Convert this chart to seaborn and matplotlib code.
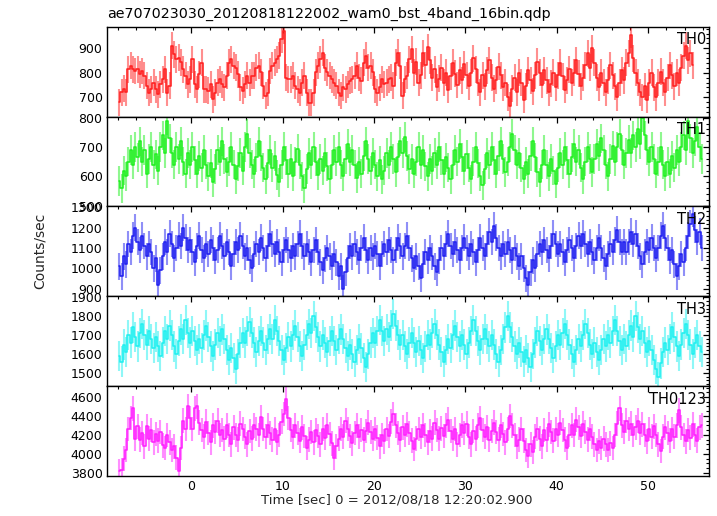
import numpy as np
import matplotlib
matplotlib.use("Agg")
import matplotlib.pyplot as plt
from matplotlib.ticker import MultipleLocator
import seaborn as sns

sns.set_theme(style="white")
plt.rcParams["font.family"] = ["DejaVu Sans"]

title = "ae707023030_20120818122002_wam0_bst_4band_16bin.qdp"
x_label = "Time [sec] 0 = 2012/08/18 12:20:02.900"
y_label = "Counts/sec"
band_names = ["TH0", "TH1", "TH2", "TH3", "TH0123"]
band_colors = ["#ff2020", "#20f020", "#2020f0", "#20f0f0", "#ff20ff"]
t_start = -8.0
bin_width = 0.25
err_half = [55, 50, 66, 80, 130]

th0 = [680, 720, 735,
       720, 814, 828, 814, 807, 814, 794, 807, 787, 746, 719, 733,
       760, 733, 712, 753, 773, 814, 719, 746, 910, 876, 855, 862,
       842, 815, 787, 753, 773, 855, 753, 733, 794, 841, 733, 733,
       726, 753, 692, 719, 760, 773, 753, 740, 787, 841, 855, 828,
       821, 794, 740, 726, 753, 787, 760, 787, 787, 821, 828, 801,
       746, 706, 719, 807, 828, 841, 855, 869, 937, 971, 780, 773,
       773, 787, 746, 733, 719, 760, 787, 719, 678, 678, 719, 801,
       828, 855, 882, 821, 801, 787, 773, 760, 746, 719, 706, 740,
       733, 753, 767, 773, 787, 828, 780, 767, 841, 869, 821, 828,
       801, 733, 719, 740, 773, 753, 760, 773, 780, 746, 841, 882,
       828, 706, 773, 787, 855, 896,
       800, 845, 760, 790, 880, 830, 905, 850, 780, 815, 740, 775, 820, 760, 800, 730, 785, 840, 795, 750,
       810, 770, 835, 790, 745, 800, 860, 815, 760, 720, 790, 745, 810, 850, 780, 735, 770, 825, 790, 740,
       760, 700, 665, 735, 780, 720, 800, 760, 690, 745, 810, 770, 725, 790, 845, 800, 750, 810, 770, 720,
       755, 800, 740, 790, 840, 785, 730, 770, 815, 760, 800, 850, 795, 745, 780, 830, 880, 820, 900, 840,
       780, 740, 800, 760, 720, 770, 830, 790, 745, 700, 760, 810, 770, 840, 880, 955, 860, 800, 760, 720,
       700, 745, 690, 760, 800, 740, 700, 760, 805, 760, 720, 780, 830, 790, 745, 800, 760, 820, 870, 910, 850, 880, 830]

th1 = [585, 560, 620, 600, 650, 690, 640, 700, 665, 720, 650, 690, 610, 660, 700, 640,
       675, 620, 700, 740, 680, 790, 730, 680, 640, 700, 660, 720, 650, 610, 680, 640,
       700, 655, 610, 670, 630, 690, 640, 600, 645, 580, 625, 690, 650, 720, 660, 615,
       650, 700, 640, 590, 635, 680, 620, 700, 745, 680, 640, 610, 665, 720, 670, 630,
       590, 645, 690, 630, 670, 605, 580, 640, 700, 655, 610, 660, 600, 650, 695, 640,
       600, 560, 625, 680, 640, 700, 650, 605, 660, 620, 680, 635, 590, 640, 690, 650,
       700, 640, 600, 660, 710, 650, 690, 640, 595, 650, 610, 670, 720, 660, 620, 680,
       640, 600, 655, 590, 620, 680, 640, 700, 660, 615, 665, 720, 680, 735, 670, 625,
       660, 610, 650, 700, 640, 690, 635, 600, 660, 620, 680, 640, 700, 655, 610, 665,
       630, 590, 640, 690, 650, 710, 665, 620, 675, 630, 590, 650, 700, 645, 600, 570,
       625, 680, 640, 700, 655, 610, 670, 720, 660, 615, 650, 700, 745, 690, 640, 680,
       630, 590, 650, 610, 670, 720, 665, 615, 580, 640, 690, 640, 600, 660, 620, 575,
       630, 680, 640, 700, 655, 610, 665, 710, 650, 690, 630, 590, 650, 700, 660, 615,
       660, 710, 670, 730, 690, 640, 600, 660, 705, 650, 700, 745, 690, 640, 680, 725,
       680, 740, 700, 760, 710, 800, 740, 690, 650, 700, 660, 610, 650, 700, 640, 600,
       650, 610, 670, 630, 690, 650, 700, 740, 690, 790, 730, 680, 720, 770, 700, 660]

th2 = [1010, 960, 1060, 1020, 1120, 1080, 1160, 1200, 1130, 1090, 1160, 1110, 1060, 1120, 1080, 1000,
       1050, 920, 990, 1060, 1130, 1080, 1170, 1120, 1050, 1100, 1160, 1110, 1200, 1150, 1090, 1140,
       1080, 1030, 1110, 1160, 1090, 1050, 1120, 1070, 1140, 1100, 1040, 1090, 1160, 1110, 1060, 1130,
       1080, 1010, 1070, 1130, 1090, 1160, 1110, 1060, 1100, 1040, 1000, 1070, 1120, 1080, 1150, 1100,
       1050, 1110, 1170, 1120, 1070, 1130, 1080, 1030, 1090, 1140, 1090, 1050, 1110, 1060, 1120, 1170,
       1110, 1060, 1120, 1080, 1030, 1090, 1140, 1080, 1030, 990, 1050, 1100, 1060, 1010, 1070, 1030,
       960, 1010, 900, 980, 1050, 1110, 1060, 1120, 1080, 1040, 1100, 1150, 1090, 1040, 1100, 1060,
       1110, 1070, 1010, 1070, 1120, 1080, 1140, 1090, 1040, 1090, 1150, 1110, 1060, 1110, 1160, 1100,
       1050, 1000, 1060, 1010, 950, 1020, 1080, 1040, 1100, 1060, 1010, 980, 1040, 1100, 1060, 1120,
       1170, 1110, 1070, 1130, 1090, 1040, 1100, 1150, 1100, 1060, 1120, 1080, 1030, 1090, 1150, 1100,
       1060, 1120, 1180, 1130, 1210, 1150, 1100, 1060, 1120, 1070, 1130, 1090, 1040, 1100, 1060, 1010,
       1060, 1000, 950, 920, 980, 1040, 1000, 1070, 1120, 1080, 1140, 1090, 1050, 1110, 1170, 1120,
       1070, 1120, 1080, 1030, 1090, 1140, 1100, 1050, 1110, 1160, 1110, 1170, 1120, 1070, 1130, 1080,
       1040, 1100, 1150, 1100, 1050, 1010, 1070, 1120, 1080, 1140, 1190, 1130, 1080, 1130, 1080, 1130,
       1180, 1120, 1170, 1110, 1060, 1020, 1080, 1130, 1090, 1150, 1100, 1050, 1100, 1160, 1210, 1150,
       1100, 1040, 1090, 1020, 960, 1010, 1070, 1030, 1100, 1160, 1220, 1270, 1190, 1130, 1180, 1100]

th3 = [1590, 1560, 1650, 1610, 1700, 1660, 1740, 1690, 1640, 1710, 1760, 1700, 1650, 1720, 1680, 1630,
       1690, 1640, 1590, 1660, 1720, 1680, 1750, 1700, 1640, 1600, 1670, 1730, 1680, 1780, 1710, 1660,
       1720, 1670, 1620, 1680, 1630, 1700, 1750, 1690, 1640, 1590, 1650, 1710, 1670, 1730, 1680, 1620,
       1570, 1630, 1580, 1520, 1600, 1660, 1710, 1660, 1720, 1770, 1710, 1660, 1610, 1670, 1720, 1660,
       1620, 1680, 1730, 1680, 1780, 1720, 1670, 1620, 1570, 1630, 1690, 1640, 1700, 1750, 1690, 1640,
       1590, 1650, 1700, 1760, 1710, 1800, 1740, 1690, 1640, 1700, 1660, 1610, 1670, 1720, 1670, 1620,
       1680, 1730, 1680, 1630, 1590, 1650, 1600, 1560, 1620, 1680, 1630, 1580, 1530, 1600, 1660, 1710,
       1660, 1720, 1780, 1720, 1670, 1730, 1690, 1750, 1810, 1750, 1700, 1650, 1700, 1640, 1600, 1660,
       1710, 1660, 1610, 1670, 1620, 1580, 1640, 1700, 1650, 1710, 1760, 1700, 1650, 1610, 1560, 1620,
       1680, 1630, 1700, 1750, 1690, 1640, 1700, 1650, 1600, 1660, 1720, 1780, 1720, 1670, 1620, 1680,
       1730, 1680, 1640, 1700, 1650, 1600, 1560, 1620, 1680, 1740, 1800, 1740, 1690, 1640, 1600, 1660,
       1610, 1560, 1620, 1580, 1530, 1600, 1660, 1720, 1670, 1620, 1680, 1730, 1680, 1630, 1580, 1640,
       1700, 1650, 1710, 1760, 1700, 1650, 1600, 1560, 1620, 1680, 1640, 1700, 1760, 1710, 1650, 1600,
       1660, 1610, 1570, 1620, 1680, 1640, 1700, 1660, 1720, 1780, 1720, 1670, 1620, 1680, 1640, 1700,
       1750, 1690, 1800, 1740, 1680, 1720, 1660, 1610, 1670, 1620, 1570, 1520, 1480, 1550, 1610, 1660,
       1620, 1680, 1740, 1690, 1640, 1590, 1650, 1710, 1760, 1700, 1650, 1600, 1660, 1700, 1640, 1610]

th0123 = [3820, 3830, 3950, 4040, 4260, 4380, 4480, 4160, 4290, 4150, 4220, 4080, 4290, 4160, 4250, 4120,
          4210, 4140, 4230, 4090, 4060, 4200, 4120, 4040, 4080, 3960, 3820, 4060, 4350, 4260, 4500, 4380,
          4260, 4480, 4500, 4330, 4250, 4180, 4340, 4220, 4120, 4300, 4230, 4350, 4200, 4250, 4160, 4300,
          4200, 4100, 4280, 4200, 4150, 4320, 4260, 4180, 4100, 4240, 4160, 4300, 4260, 4200, 4390, 4260,
          4180, 4300, 4220, 4150, 4260, 4120, 4200, 4340, 4420, 4580, 4380, 4250, 4180, 4300, 4220, 4140,
          4280, 4190, 4060, 4150, 4230, 4120, 4250, 4190, 4100, 4260, 4170, 4300, 4210, 4110, 3960, 4080,
          4160, 4260, 4180, 4350, 4260, 4190, 4110, 4220, 4300, 4180, 4250, 4150, 4240, 4330, 4230, 4160,
          4260, 4170, 4080, 4200, 4130, 4260, 4190, 4340, 4420, 4300, 4220, 4150, 4280, 4200, 4310, 4220,
          4140, 4050, 4160, 4260, 4180, 4300, 4200, 4120, 4240, 4160, 4330, 4250, 4160, 4270, 4190, 4300,
          4360, 4240, 4160, 4260, 4100, 4200, 4300, 4220, 4320, 4180, 4100, 4240, 4160, 4300, 4380, 4250,
          4180, 4280, 4150, 4240, 4330, 4230, 4150, 4300, 4210, 4120, 4260, 4400, 4300, 4200, 4080, 4150,
          4260, 4140, 4040, 3980, 4100, 4020, 4180, 4260, 4160, 4080, 4250, 4150, 4310, 4230, 4140, 4260,
          4200, 4330, 4250, 4150, 4060, 4200, 4300, 4200, 4360, 4280, 4190, 4320, 4230, 4150, 4260, 4180,
          4100, 4040, 4130, 4060, 4160, 4100, 4040, 4110, 4060, 4200, 4320, 4480, 4300, 4230, 4350, 4260,
          4320, 4200, 4280, 4350, 4220, 4310, 4200, 4130, 4260, 4180, 4290, 4200, 4100, 4030, 4180, 4280,
          4220, 4140, 4260, 4180, 4300, 4460, 4280, 4200, 4130, 4250, 4170, 4310, 4200, 4140, 4280, 4300]

series = [th0, th1, th2, th3, th0123]
y_limits = [(621, 988), (498, 804), (862, 1305), (1430, 1905), (3765, 4715)]
y_major = [100, 100, 100, 100, 200]
y_minor = [20, 20, 20, 20, 50]
x_limits = (-9.26, 56.7)

W, H = 717, 516
fig = plt.figure(figsize=(W / 100, H / 100), dpi=100)
left_px, right_px = 106.7, 709.4
top_px, bottom_px = 26.7, 476.0
ph = (bottom_px - top_px) / 5

for k, (name, col, vals, lim) in enumerate(zip(band_names, band_colors, series, y_limits)):
    y0 = top_px + k * ph
    ax = fig.add_axes([left_px / W, 1 - (y0 + ph) / H, (right_px - left_px) / W, ph / H])
    vals = np.asarray(vals, dtype=float)
    time = t_start + bin_width * (np.arange(len(vals)) + 0.5)
    ax.vlines(time, vals - err_half[k], vals + err_half[k], color=col, alpha=0.5, lw=1.5)
    sns.lineplot(x=time, y=vals, drawstyle="steps-mid", color=col, lw=1.15, ax=ax)
    ax.set_xlim(*x_limits)
    ax.set_ylim(*lim)
    ax.xaxis.set_major_locator(MultipleLocator(10))
    ax.xaxis.set_minor_locator(MultipleLocator(2))
    ax.yaxis.set_major_locator(MultipleLocator(y_major[k]))
    ax.yaxis.set_minor_locator(MultipleLocator(y_minor[k]))
    ax.tick_params(which="both", direction="in", top=True, right=True, colors="black",
                   labelsize=9, pad=3)
    ax.tick_params(which="major", length=4.5, width=0.9)
    ax.tick_params(which="minor", length=2.2, width=0.8)
    for s in ax.spines.values():
        s.set_color("black")
        s.set_linewidth(1.0)
    if k < 4:
        ax.tick_params(labelbottom=False)
    ax.set_xlabel("")
    ax.set_ylabel("")
    ax.text(0.995, 0.94, name, transform=ax.transAxes, ha="right", va="top",
            fontsize=10.5, color="black")

fig.text(left_px / W, 1 - 14 / H, title, ha="left", va="center", fontsize=10.3, color="black")
fig.text(40 / W, 1 - 251 / H, y_label, rotation=90, ha="center", va="center", fontsize=10)
fig.text(397 / W, 1 - 500 / H, x_label, ha="center", va="center", fontsize=9.5)

fig.savefig("out.png", dpi=100)
